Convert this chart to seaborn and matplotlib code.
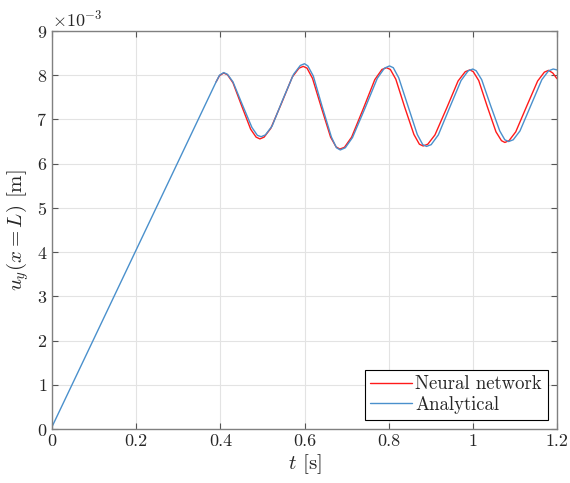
import numpy as np
import pandas as pd
import matplotlib
matplotlib.use("Agg")
import matplotlib.pyplot as plt
import seaborn as sns

# values (u_y in units of 1e-3 m)
t_nn = [0.390, 0.398, 0.408,
        0.417, 0.430, 0.451, 0.472, 0.485, 0.494,
        0.504, 0.520, 0.546, 0.571, 0.587, 0.597,
        0.606, 0.619, 0.640, 0.662, 0.675, 0.684,
        0.695, 0.712, 0.740, 0.767, 0.784, 0.795,
        0.804, 0.817, 0.838, 0.860, 0.873, 0.882,
        0.893, 0.910, 0.938, 0.965, 0.982, 0.993,
        1.001, 1.014, 1.034, 1.055, 1.068, 1.076,
        1.086, 1.102, 1.128, 1.154, 1.170, 1.180, 1.190, 1.200]
u_nn = [7.85, 7.99, 8.05,
        8.01, 7.83, 7.30, 6.78, 6.60, 6.56,
        6.60, 6.80, 7.38, 7.96, 8.16, 8.20,
        8.16, 7.93, 7.27, 6.60, 6.38, 6.33,
        6.37, 6.60, 7.25, 7.90, 8.13, 8.17,
        8.13, 7.91, 7.28, 6.66, 6.44, 6.40,
        6.44, 6.65, 7.26, 7.87, 8.08, 8.12,
        8.08, 7.88, 7.30, 6.72, 6.52, 6.48,
        6.52, 6.72, 7.30, 7.87, 8.07, 8.11, 8.05, 7.92]

t_an = [0.0, 0.1, 0.2, 0.3, 0.390, 0.398, 0.408,
        0.417, 0.430, 0.452, 0.475, 0.488, 0.497,
        0.507, 0.523, 0.548, 0.574, 0.590, 0.600,
        0.608, 0.621, 0.642, 0.664, 0.676, 0.685,
        0.697, 0.714, 0.744, 0.773, 0.790, 0.802,
        0.811, 0.824, 0.846, 0.868, 0.881, 0.890,
        0.901, 0.918, 0.945, 0.972, 0.989, 1.000,
        1.008, 1.021, 1.042, 1.064, 1.076, 1.085,
        1.096, 1.112, 1.138, 1.164, 1.180, 1.191, 1.200]
u_an = [0.05, 2.05, 4.05, 6.05, 7.85, 8.00, 8.06,
        8.02, 7.85, 7.34, 6.82, 6.64, 6.61,
        6.65, 6.85, 7.44, 8.02, 8.22, 8.26,
        8.21, 7.98, 7.29, 6.60, 6.36, 6.31,
        6.36, 6.59, 7.26, 7.93, 8.16, 8.21,
        8.17, 7.94, 7.30, 6.66, 6.43, 6.39,
        6.43, 6.65, 7.27, 7.88, 8.10, 8.14,
        8.10, 7.90, 7.32, 6.74, 6.54, 6.50,
        6.54, 6.74, 7.32, 7.90, 8.10, 8.14, 8.12]

nn = pd.DataFrame({"t": t_nn, "u": np.array(u_nn) * 1e-3})
an = pd.DataFrame({"t": t_an, "u": np.array(u_an) * 1e-3})

sns.set_theme(style="ticks")
plt.rcParams["font.family"] = ["cmr10", "DejaVu Serif"]
plt.rcParams["mathtext.fontset"] = "cm"
plt.rcParams["axes.formatter.use_mathtext"] = True
plt.rcParams["axes.unicode_minus"] = False

fig, ax = plt.subplots(figsize=(5.7, 4.83), dpi=100)
fig.subplots_adjust(left=52/570, right=557/570, top=1-31/483, bottom=1-429/483)

sns.lineplot(data=nn, x="t", y="u", ax=ax, color="#ff1a1a", lw=1.0, label="Neural network")
sns.lineplot(data=an, x="t", y="u", ax=ax, color="#4a90cc", lw=1.0, label="Analytical")

ax.set_xlim(0, 1.2)
ax.set_ylim(0, 9e-3)
ax.set_xticks([0, 0.2, 0.4, 0.6, 0.8, 1.0, 1.2])
ax.set_xticklabels(["0", "0.2", "0.4", "0.6", "0.8", "1", "1.2"])
ax.set_yticks(np.arange(0, 10) * 1e-3)
ax.ticklabel_format(axis="y", style="sci", scilimits=(-3, -3), useMathText=True)
ax.yaxis.get_offset_text().set_fontsize(13)

ax.grid(True, color="#e3e3e3", lw=0.8)
ax.tick_params(direction="in", top=True, right=True, labelsize=13, length=4,
               color="#555555", width=0.8)
for s in ax.spines.values():
    s.set_color("#808080")
    s.set_linewidth(1.0)

ax.set_xlabel(r"$t$ [s]", fontsize=15, labelpad=2)
ax.set_ylabel(r"$u_y(x = L)$ [m]", fontsize=15, labelpad=4)

leg = ax.legend(loc="lower right", fontsize=13.5, fancybox=False, framealpha=1,
                edgecolor="black", handlelength=2.2, handletextpad=0.2,
                borderpad=0.3, labelspacing=0.15, borderaxespad=0.5)
leg.get_frame().set_linewidth(0.8)

fig.savefig("out.png", dpi=100)
